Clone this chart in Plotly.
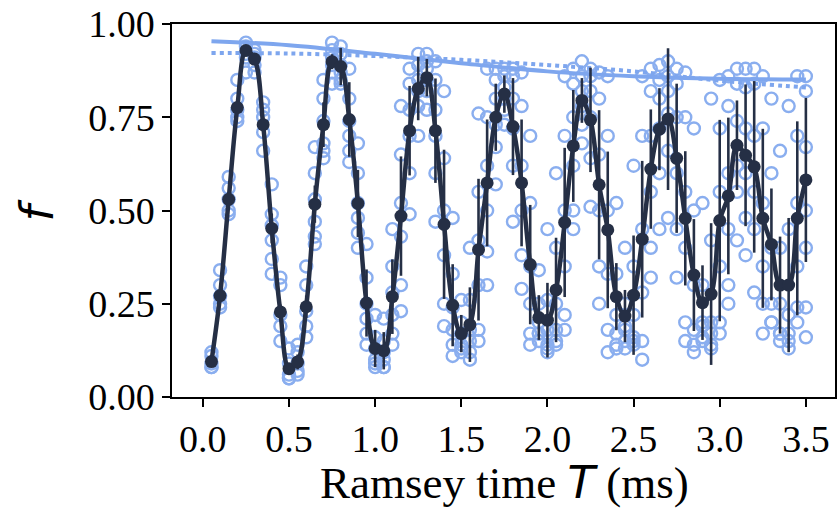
import plotly.graph_objects as go

# Ramsey times (ms)
T = [round(0.05 * k, 2) for k in range(1, 71)]

# mean fraction f (dark points)
f_mean = [0.095, 0.272, 0.530, 0.776, 0.929, 0.906, 0.730, 0.452, 0.228, 0.076,
          0.094, 0.242, 0.517, 0.730, 0.899, 0.886, 0.744, 0.519, 0.252, 0.130,
          0.124, 0.269, 0.485, 0.714, 0.827, 0.856, 0.714, 0.463, 0.246, 0.170,
          0.194, 0.395, 0.574, 0.750, 0.812, 0.725, 0.574, 0.355, 0.213, 0.206,
          0.287, 0.468, 0.673, 0.795, 0.743, 0.569, 0.448, 0.269, 0.217, 0.273,
          0.423, 0.611, 0.718, 0.745, 0.640, 0.479, 0.327, 0.253, 0.276, 0.473,
          0.539, 0.675, 0.648, 0.617, 0.479, 0.409, 0.300, 0.300, 0.479, 0.582]

# error bar half-lengths
f_err = [0.010, 0.015, 0.015, 0.015, 0.010, 0.015, 0.020, 0.040, 0.020, 0.015,
         0.020, 0.030, 0.050, 0.060, 0.020, 0.050, 0.100, 0.090, 0.090, 0.050,
         0.050, 0.100, 0.160, 0.120, 0.085, 0.050, 0.140, 0.200, 0.110, 0.050,
         0.100, 0.190, 0.170, 0.090, 0.050, 0.130, 0.170, 0.160, 0.060, 0.100,
         0.140, 0.200, 0.150, 0.060, 0.140, 0.200, 0.210, 0.090, 0.070, 0.160,
         0.210, 0.160, 0.110, 0.190, 0.200, 0.180, 0.150, 0.100, 0.190, 0.270,
         0.210, 0.120, 0.190, 0.230, 0.240, 0.150, 0.130, 0.180, 0.260, 0.220]

# individual shots (open circles), one list per Ramsey time
f_raw = [
    [0.12, 0.11, 0.09, 0.08, 0.08],
    [0.34, 0.30, 0.27, 0.25, 0.24],
    [0.59, 0.56, 0.53, 0.50, 0.49],
    [0.85, 0.80, 0.77, 0.75, 0.74],
    [0.95, 0.94, 0.92, 0.91, 0.87],
    [0.93, 0.92, 0.91, 0.89, 0.87],
    [0.79, 0.77, 0.75, 0.71, 0.66],
    [0.57, 0.49, 0.46, 0.42, 0.37, 0.33],
    [0.32, 0.30, 0.22, 0.19, 0.15],
    [0.13, 0.09, 0.06, 0.05, 0.05],
    [0.14, 0.12, 0.09, 0.07, 0.06],
    [0.35, 0.30, 0.23, 0.19, 0.16],
    [0.67, 0.60, 0.53, 0.47, 0.41, 0.43],
    [0.85, 0.80, 0.74, 0.68, 0.64, 0.66],
    [0.95, 0.93, 0.91, 0.89, 0.87, 0.84],
    [0.94, 0.92, 0.89, 0.87, 0.85, 0.84],
    [0.88, 0.80, 0.74, 0.70, 0.66, 0.63],
    [0.68, 0.60, 0.52, 0.48, 0.44, 0.40],
    [0.41, 0.32, 0.25, 0.21, 0.17, 0.14],
    [0.22, 0.16, 0.13, 0.10, 0.08, 0.09],
    [0.21, 0.15, 0.12, 0.10, 0.08, 0.08],
    [0.45, 0.35, 0.28, 0.22, 0.17, 0.14],
    [0.78, 0.65, 0.52, 0.43, 0.30, 0.23],
    [0.88, 0.84, 0.77, 0.70, 0.60, 0.49],
    [0.92, 0.89, 0.85, 0.82, 0.78, 0.70],
    [0.92, 0.90, 0.88, 0.85, 0.82, 0.77],
    [0.90, 0.85, 0.77, 0.70, 0.60, 0.47],
    [0.82, 0.64, 0.50, 0.38, 0.25, 0.19],
    [0.48, 0.33, 0.24, 0.18, 0.14, 0.11],
    [0.26, 0.20, 0.17, 0.14, 0.13, 0.12],
    [0.40, 0.26, 0.18, 0.15, 0.12, 0.10],
    [0.76, 0.55, 0.42, 0.30, 0.18, 0.15],
    [0.88, 0.75, 0.62, 0.50, 0.39, 0.30],
    [0.88, 0.85, 0.80, 0.73, 0.67, 0.57],
    [0.88, 0.86, 0.83, 0.80, 0.77, 0.73],
    [0.88, 0.86, 0.80, 0.72, 0.62, 0.47],
    [0.87, 0.78, 0.62, 0.50, 0.38, 0.29],
    [0.70, 0.52, 0.35, 0.25, 0.17, 0.14],
    [0.34, 0.25, 0.20, 0.17, 0.15, 0.17],
    [0.45, 0.26, 0.18, 0.14, 0.12, 0.13],
    [0.60, 0.40, 0.25, 0.18, 0.15, 0.14],
    [0.86, 0.70, 0.50, 0.35, 0.22, 0.18],
    [0.88, 0.84, 0.75, 0.62, 0.50, 0.45],
    [0.90, 0.86, 0.82, 0.78, 0.73, 0.68],
    [0.88, 0.86, 0.82, 0.75, 0.64, 0.51],
    [0.87, 0.80, 0.65, 0.50, 0.35, 0.25],
    [0.86, 0.70, 0.50, 0.33, 0.18, 0.12],
    [0.52, 0.33, 0.22, 0.17, 0.14, 0.13],
    [0.40, 0.25, 0.18, 0.15, 0.13, 0.19],
    [0.62, 0.35, 0.22, 0.15, 0.14, 0.16],
    [0.86, 0.70, 0.45, 0.28, 0.15, 0.10],
    [0.88, 0.82, 0.70, 0.55, 0.40, 0.32],
    [0.89, 0.85, 0.80, 0.72, 0.60, 0.45],
    [0.90, 0.86, 0.82, 0.76, 0.66, 0.48],
    [0.88, 0.84, 0.75, 0.60, 0.45, 0.32],
    [0.87, 0.75, 0.55, 0.40, 0.20, 0.15],
    [0.72, 0.50, 0.30, 0.18, 0.14, 0.12],
    [0.52, 0.30, 0.20, 0.15, 0.19, 0.16],
    [0.80, 0.42, 0.20, 0.14, 0.13, 0.17],
    [0.85, 0.72, 0.55, 0.35, 0.20, 0.17],
    [0.86, 0.78, 0.60, 0.45, 0.30, 0.25],
    [0.88, 0.84, 0.74, 0.62, 0.55, 0.42],
    [0.88, 0.83, 0.72, 0.60, 0.48, 0.38],
    [0.88, 0.84, 0.70, 0.55, 0.45, 0.28],
    [0.86, 0.72, 0.52, 0.35, 0.25, 0.17],
    [0.80, 0.60, 0.40, 0.25, 0.20, 0.20],
    [0.66, 0.40, 0.25, 0.17, 0.15, 0.17],
    [0.78, 0.45, 0.22, 0.15, 0.13, 0.17],
    [0.86, 0.70, 0.52, 0.35, 0.24, 0.20],
    [0.86, 0.82, 0.67, 0.50, 0.40, 0.24, 0.16],
]

# contrast envelopes
env_T = [0.05, 0.5, 1.0, 1.5, 2.0, 2.5, 3.0, 3.5]
env_solid = [0.954, 0.943, 0.920, 0.895, 0.873, 0.860, 0.853, 0.851]
env_dotted = [0.922, 0.921, 0.914, 0.904, 0.890, 0.873, 0.848, 0.830]

x_ticks = [0.0, 0.5, 1.0, 1.5, 2.0, 2.5, 3.0, 3.5]
y_ticks = [0.0, 0.25, 0.5, 0.75, 1.0]

LIGHT = "#7ea6ee"
DARK = "#252f45"

raw_x, raw_y = [], []
for t, vals in zip(T, f_raw):
    for v in vals:
        raw_x.append(t)
        raw_y.append(v)

fig = go.Figure()
fig.add_trace(go.Scatter(
    x=raw_x, y=raw_y, mode="markers",
    marker=dict(symbol="circle-open", size=12, color=LIGHT, line=dict(width=2.4, color=LIGHT)),
    opacity=0.9, showlegend=False, hoverinfo="skip"))
fig.add_trace(go.Scatter(
    x=env_T, y=env_solid, mode="lines", line=dict(color=LIGHT, width=4, shape="spline"),
    showlegend=False))
fig.add_trace(go.Scatter(
    x=env_T, y=env_dotted, mode="lines", line=dict(color=LIGHT, width=4, dash="4px,4px", shape="spline"),
    showlegend=False))
fig.add_trace(go.Scatter(
    x=T, y=f_mean, mode="lines+markers",
    line=dict(color=DARK, width=4.5, shape="spline", smoothing=1.0),
    marker=dict(size=13, color=DARK),
    error_y=dict(type="data", array=f_err, visible=True, color=DARK, thickness=2.6, width=0),
    showlegend=False))

tickfont = dict(family="Liberation Serif", size=38, color="black")
fig.update_layout(
    width=838, height=510,
    margin=dict(l=172, r=1, t=24, b=113),
    paper_bgcolor="white", plot_bgcolor="white",
    xaxis=dict(range=[-0.179, 3.669], tickvals=x_ticks, tickformat=".1f",
               ticks="outside", ticklen=8, tickwidth=1.5, tickcolor="black",
               showline=True, linecolor="black", linewidth=1.5, mirror=True,
               showgrid=False, zeroline=False, tickfont=tickfont),
    yaxis=dict(range=[0, 1], tickvals=y_ticks, tickformat=".2f",
               ticks="outside", ticklen=8, tickwidth=1.5, tickcolor="black",
               showline=True, linecolor="black", linewidth=1.5, mirror=True,
               showgrid=False, zeroline=False, tickfont=tickfont),
    annotations=[
        dict(text="Ramsey time <span style=\"font-family:DejaVu Sans\"><i>T</i></span> (ms)",
             xref="paper", yref="paper", x=0.5008, y=-0.228, xanchor="center", yanchor="middle",
             showarrow=False, font=dict(family="Liberation Serif", size=45, color="black")),
        dict(text="<i>f</i>", xref="paper", yref="paper", x=-0.203, y=0.501,
             xanchor="center", yanchor="middle", textangle=-90, showarrow=False,
             font=dict(family="DejaVu Sans", size=46, color="black")),
    ],
)

fig.write_html("out.html")
